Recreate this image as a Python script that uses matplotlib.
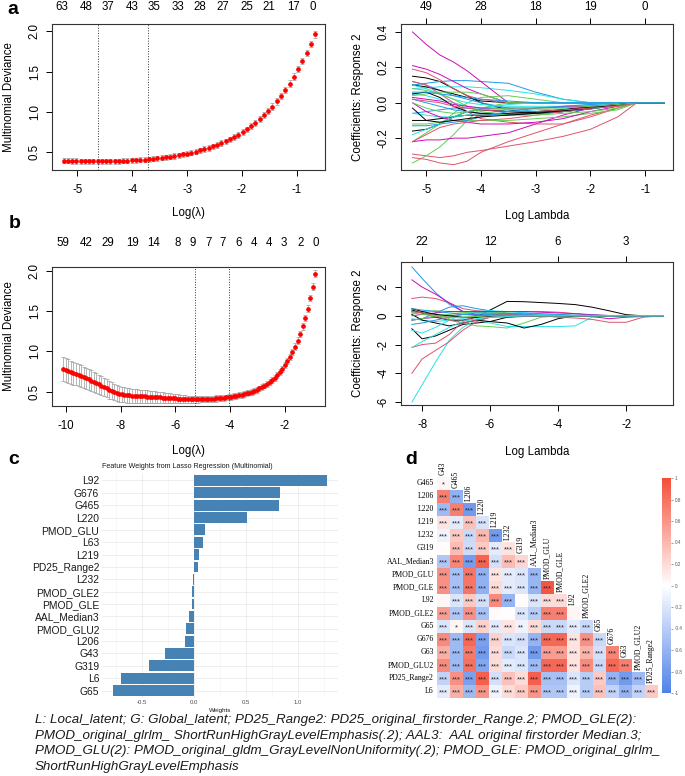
import numpy as np
import matplotlib
matplotlib.use("Agg")
import matplotlib.pyplot as plt
from matplotlib.colors import LinearSegmentedColormap, Normalize
from matplotlib.cm import ScalarMappable
import matplotlib.transforms as mtransforms

plt.rcParams['font.family'] = ['Liberation Sans', 'DejaVu Sans']

# ---------------- DATA ----------------
# panel a : cross-validation curve
A_LOGLAM_START, A_LOGLAM_END = -5.25, -0.67
A_DEV = [0.397, 0.395, 0.393, 0.391, 0.389, 0.388, 0.387, 0.386, 0.386, 0.386,
         0.387, 0.388, 0.389, 0.391, 0.393, 0.395, 0.398, 0.401, 0.405, 0.409,
         0.414, 0.419, 0.425, 0.431, 0.438, 0.446, 0.454, 0.463, 0.473, 0.484,
         0.496, 0.509, 0.523, 0.538, 0.554, 0.572, 0.591, 0.612, 0.635, 0.660,
         0.687, 0.716, 0.748, 0.783, 0.821, 0.862, 0.907, 0.956, 1.009, 1.067,
         1.130, 1.198, 1.272, 1.352, 1.438, 1.530, 1.628, 1.733, 1.844, 1.960]
A_SE = [0.034, 0.034, 0.033, 0.033, 0.033, 0.032, 0.032, 0.032, 0.031, 0.031,
        0.031, 0.031, 0.031, 0.031, 0.031, 0.031, 0.031, 0.031, 0.031, 0.031,
        0.031, 0.031, 0.032, 0.032, 0.032, 0.032, 0.032, 0.033, 0.033, 0.033,
        0.033, 0.033, 0.034, 0.034, 0.034, 0.034, 0.035, 0.035, 0.035, 0.035,
        0.036, 0.036, 0.036, 0.036, 0.037, 0.037, 0.037, 0.037, 0.038, 0.038,
        0.038, 0.038, 0.039, 0.039, 0.039, 0.040, 0.040, 0.040, 0.041, 0.041]
A_LAMBDA_LINES = [-4.62, -3.71]
A_TOP_POS = [-5.29, -4.84, -4.44, -4.0, -3.6, -3.16, -2.76, -2.35, -1.91, -1.51, -1.07, -0.71]
A_TOP_LABELS = ["63", "48", "37", "43", "35", "33", "28", "27", "25", "21", "17", "0"]

# panel a : coefficient paths
A_PATH_X = [-5.25, -5.0, -4.75, -4.5, -4.25, -4.0, -3.5, -3.0, -2.5, -2.0, -1.5, -1.15, -0.65]
A_PATHS = [
    [0.15, 0.14, 0.12, 0.08, 0.04, 0.0, -0.04, -0.06, -0.05, -0.03, -0.01, 0, 0],
    [-0.29, -0.30, -0.31, -0.30, -0.28, -0.27, -0.245, -0.22, -0.19, -0.15, -0.08, 0, 0],
    [-0.34, -0.30, -0.25, -0.18, -0.10, -0.03, 0, 0, 0, 0, 0, 0, 0],
    [0.10, 0.11, 0.12, 0.125, 0.125, 0.12, 0.11, 0.06, 0.02, 0, 0, 0, 0],
    [0.08, 0.085, 0.09, 0.09, 0.09, 0.085, 0.07, 0.05, 0.02, 0.0, 0, 0, 0],
    [0.40, 0.33, 0.27, 0.23, 0.18, 0.12, 0.0, 0, 0, 0, 0, 0, 0],
    [-0.10, -0.10, -0.09, -0.08, -0.07, -0.07, -0.065, -0.06, -0.05, -0.035, -0.015, 0, 0],
    [-0.31, -0.32, -0.34, -0.35, -0.33, -0.28, -0.22, -0.17, -0.12, -0.07, -0.03, 0, 0],
    [-0.22, -0.17, -0.12, -0.06, 0.0, 0.03, 0.04, 0.02, 0.0, 0, 0, 0, 0],
    [0.12, 0.10, 0.07, 0.04, 0.02, 0.0, -0.03, -0.05, -0.05, -0.03, -0.015, 0, 0],
    [0.05, 0.04, 0.02, 0.0, -0.02, -0.03, -0.04, -0.04, -0.035, -0.025, -0.01, 0, 0],
    [0.21, 0.19, 0.16, 0.12, 0.08, 0.05, 0.0, 0, 0, 0, 0, 0, 0],
    [0.10, 0.09, 0.07, 0.05, 0.03, 0.01, 0, 0, 0, 0, 0, 0, 0],
    [0.19, 0.17, 0.13, 0.08, 0.04, 0.02, 0.0, 0, 0, 0, 0, 0, 0],
    [0.04, 0.05, 0.06, 0.06, 0.06, 0.05, 0.0, 0, 0, 0, 0, 0, 0],
    [-0.06, -0.05, -0.04, -0.03, -0.03, -0.04, -0.05, -0.05, -0.045, -0.03, -0.015, 0, 0],
    [-0.06, -0.07, -0.08, -0.08, -0.07, -0.06, -0.04, -0.03, -0.02, -0.01, 0, 0, 0],
    [-0.22, -0.21, -0.21, -0.20, -0.20, -0.19, -0.17, -0.12, -0.07, -0.03, -0.01, 0, 0],
    [-0.16, -0.15, -0.12, -0.08, -0.05, -0.04, -0.05, -0.055, -0.04, -0.02, -0.01, 0, 0],
    [0.12, 0.10, 0.05, 0.0, -0.05, -0.09, -0.11, -0.12, -0.12, -0.08, -0.03, 0, 0],
    [-0.12, -0.12, -0.11, -0.10, -0.10, -0.10, -0.10, -0.09, -0.08, -0.06, -0.04, 0, 0],
    [0.02, 0.0, -0.02, -0.04, -0.05, -0.06, -0.07, -0.06, -0.05, -0.035, -0.015, 0, 0],
    [0.10, 0.08, 0.05, 0.02, 0.0, -0.01, -0.02, -0.02, -0.02, -0.015, -0.005, 0, 0],
    [0.0, -0.05, -0.08, -0.10, -0.11, -0.12, -0.12, -0.11, -0.09, -0.05, -0.02, 0, 0],
    [0.05, 0.06, 0.03, -0.02, -0.05, -0.06, -0.06, -0.05, -0.04, -0.025, -0.01, 0, 0],
    [-0.22, -0.18, -0.14, -0.12, -0.11, -0.10, -0.09, -0.07, -0.05, -0.03, -0.01, 0, 0],
    [0.08, 0.07, 0.05, 0.02, -0.02, -0.05, -0.07, -0.07, -0.06, -0.05, -0.03, 0, 0],
    [-0.13, -0.13, -0.12, -0.11, -0.10, -0.08, -0.05, -0.03, -0.02, -0.01, 0, 0, 0],
    [-0.18, -0.15, -0.12, -0.08, -0.05, -0.03, -0.01, 0, 0, 0, 0, 0, 0],
    [0.03, 0.02, 0.01, -0.01, -0.02, -0.03, -0.03, -0.03, -0.025, -0.02, -0.01, 0, 0],
    [-0.03, -0.10, -0.11, -0.10, -0.09, -0.08, -0.07, -0.06, -0.045, -0.03, -0.01, 0, 0],
    [0.02, 0.01, 0.0, -0.02, -0.03, -0.04, -0.05, -0.05, -0.04, -0.03, -0.02, 0, 0],
    [0.0, -0.03, -0.05, -0.06, -0.05, -0.04, -0.03, -0.03, -0.03, -0.02, -0.01, 0, 0],
    [0.06, 0.06, 0.05, 0.04, 0.03, 0.02, 0.01, 0, 0, 0, 0, 0, 0],
]
A_COEF_TOP_POS = [-5, -4, -3, -2, -1]
A_COEF_TOP_LABELS = ["49", "28", "18", "19", "0"]

# panel b : cross-validation curve
B_LOGLAM_START, B_LOGLAM_END = -10.1, -0.88
B_DEV = [0.780, 0.768, 0.755, 0.742, 0.729, 0.716, 0.703, 0.690, 0.677, 0.664,
         0.651, 0.637, 0.622, 0.606, 0.589, 0.572, 0.555, 0.538, 0.522, 0.507,
         0.494, 0.482, 0.472, 0.464, 0.458, 0.454, 0.451, 0.449, 0.447, 0.445,
         0.443, 0.441, 0.439, 0.437, 0.435, 0.433, 0.431, 0.429, 0.427, 0.425,
         0.423, 0.421, 0.419, 0.417, 0.415, 0.413, 0.411, 0.409, 0.407, 0.405,
         0.404, 0.403, 0.403, 0.403, 0.404, 0.405, 0.406, 0.408, 0.410, 0.412,
         0.414, 0.417, 0.420, 0.423, 0.427, 0.431, 0.436, 0.441, 0.447, 0.453,
         0.460, 0.468, 0.477, 0.487, 0.498, 0.510, 0.524, 0.539, 0.556, 0.575,
         0.596, 0.619, 0.645, 0.674, 0.706, 0.742, 0.782, 0.826, 0.875, 0.930,
         0.991, 1.059, 1.135, 1.219, 1.313, 1.417, 1.533, 1.663, 1.807, 1.967]
B_SE = [0.150, 0.148, 0.146, 0.144, 0.142, 0.140, 0.138, 0.136, 0.134, 0.132,
        0.130, 0.128, 0.126, 0.124, 0.121, 0.118, 0.115, 0.112, 0.109, 0.106,
        0.103, 0.100, 0.098, 0.096, 0.094, 0.092, 0.090, 0.088, 0.086, 0.084,
        0.082, 0.080, 0.078, 0.076, 0.074, 0.072, 0.070, 0.068, 0.066, 0.064,
        0.062, 0.060, 0.058, 0.056, 0.054, 0.052, 0.050, 0.048, 0.046, 0.045,
        0.044, 0.043, 0.042, 0.041, 0.040, 0.040, 0.039, 0.039, 0.038, 0.038,
        0.038, 0.037, 0.037, 0.037, 0.036, 0.036, 0.036, 0.036, 0.036, 0.036,
        0.036, 0.036, 0.036, 0.036, 0.036, 0.036, 0.036, 0.036, 0.036, 0.036,
        0.036, 0.036, 0.036, 0.037, 0.037, 0.037, 0.037, 0.038, 0.038, 0.038,
        0.039, 0.039, 0.040, 0.040, 0.041, 0.041, 0.042, 0.042, 0.043, 0.043]
B_LAMBDA_LINES = [-5.27, -4.04]
B_TOP_POS = [-10.11, -9.27, -8.46, -7.58, -6.78, -5.90, -5.35, -4.80, -4.26, -3.70,
             -3.11, -2.56, -2.02, -1.43, -0.88]
B_TOP_LABELS = ["59", "42", "29", "19", "14", "8", "9", "7", "7", "6", "4", "4", "3", "2", "0"]

# panel b : coefficient paths
B_PATH_X = [-8.3, -8.0, -7.6, -7.2, -6.8, -6.4, -6.0, -5.5, -5.0, -4.5, -4.0, -3.5, -3.0, -2.5, -2.0, -1.5, -0.9]
B_PATHS = [
    [-0.9, -1.6, -1.4, -1.0, -0.6, -0.5, -0.4, -0.1, 0, 0, 0, 0, 0, 0, 0, 0, 0],
    [1.2, 1.3, 1.2, 0.9, 0.5, 0.35, 0.3, 0.3, 0.3, 0.3, 0.25, 0.15, 0.05, 0, 0, 0, 0],
    [0.3, 0.2, 0.1, -0.2, -0.5, -0.7, -0.75, -0.85, -0.5, -0.1, 0, 0, 0, 0, 0, 0, 0],
    [3.4, 2.6, 1.6, 0.8, 0.3, 0.1, 0.05, 0.0, 0, 0, 0, 0, 0, 0, 0, 0, 0],
    [-6.0, -4.8, -3.2, -1.7, -0.8, -0.3, -0.1, 0, 0, 0, 0, 0, 0, 0, 0, 0, 0],
    [2.5, 2.0, 1.5, 0.9, 0.3, 0.0, -0.05, -0.1, -0.05, 0, 0, 0, 0, 0, 0, 0, 0],
    [0.4, 0.2, -0.1, -0.3, -0.3, -0.1, 0.4, 1.0, 0.98, 0.92, 0.86, 0.78, 0.6, 0.35, 0.08, 0, 0],
    [-4.0, -3.0, -2.4, -1.8, -1.0, -0.4, -0.1, 0, 0, 0, 0, 0, 0, 0, 0, 0, 0],
    [0.2, 0.3, 0.35, 0.3, 0.25, 0.2, 0.15, 0.1, 0.05, 0.02, 0, 0, 0, 0, 0, 0, 0],
    [-0.3, -0.2, 0.2, 0.6, 0.7, 0.5, 0.35, 0.2, 0.1, 0.05, 0, 0, 0, 0, 0, 0, 0],
    [-0.2, -0.3, -0.4, -0.3, -0.2, -0.3, -0.5, -0.74, -0.75, -0.75, -0.75, -0.7, -0.1, 0, 0, 0, 0],
    [-0.3, -0.2, -0.1, 0.0, 0.1, 0.05, 0, 0, 0, 0, 0, 0, -0.05, -0.2, -0.1, -0.05, 0],
    [0.1, -0.3, -0.5, -0.7, -0.5, -0.3, -0.4, -0.5, -0.85, -0.6, -0.2, 0, 0, 0, 0, 0, 0],
    [-2.2, -2.0, -1.9, -1.3, -0.4, 0, 0.1, 0.1, 0.05, 0.0, -0.1, -0.15, -0.25, -0.45, -0.45, -0.1, 0],
    [-0.3, -0.2, 0.0, 0.1, 0.2, 0.25, 0.25, 0.2, 0.15, 0.1, 0.05, 0.02, 0, 0, 0, 0, 0],
    [-0.6, -0.5, -0.3, -0.1, 0.1, 0.2, 0.2, 0.15, 0.1, 0.05, 0.02, 0, 0, 0, 0, 0, 0],
    [-1.0, -1.2, -0.8, -0.3, 0.1, 0.3, 0.35, 0.3, 0.2, 0.1, 0.05, 0, 0, 0, 0, 0, 0],
    [0.0, 0.1, 0.2, 0.3, 0.3, 0.3, 0.3, 0.3, 0.3, 0.25, 0.2, 0.15, 0.08, 0.02, 0, 0, 0],
    [0.5, 0.3, 0.1, 0.0, -0.1, -0.1, -0.05, 0, 0, 0, 0, 0, 0, 0, 0, 0, 0],
    [0.3, 0.2, 0.0, -0.3, -0.5, -0.3, -0.1, 0.0, 0.0, 0, 0, 0, 0, 0, 0, 0, 0],
    [0.2, 0.1, 0.0, -0.1, -0.1, -0.05, 0, 0, 0, 0, 0, 0, 0, 0, 0, 0, 0],
    [0.5, 0.4, 0.3, 0.2, 0.1, 0.05, 0.1, 0.15, 0.2, 0.15, 0.1, 0.05, 0.05, 0.02, 0, 0, 0],
    [-2.2, -1.8, -1.3, -0.8, -0.4, -0.2, -0.1, -0.05, 0, 0, 0, 0, 0, 0, 0, 0, 0],
]
B_COEF_TOP_POS = [-8, -6, -4, -2]
B_COEF_TOP_LABELS = ["22", "12", "6", "3"]

# panel c : lasso feature weights
C_FEATURES = ["L92", "G676", "G465", "L220", "PMOD_GLU", "L63", "L219", "PD25_Range2",
              "L232", "PMOD_GLE2", "PMOD_GLE", "AAL_Median3", "PMOD_GLU2", "L206",
              "G43", "G319", "L6", "G65"]
C_WEIGHTS = [1.28, 0.83, 0.82, 0.51, 0.106, 0.09, 0.045, 0.04,
             -0.013, -0.015, -0.02, -0.05, -0.08, -0.085,
             -0.28, -0.43, -0.70, -0.78]
C_XTICKS = [-0.5, 0.0, 0.5, 1.0]

# panel d : correlation matrix (lower triangle)
D_VARS = ["G43", "G465", "L206", "L220", "L219", "L232", "G319", "AAL_Median3",
          "PMOD_GLU", "PMOD_GLE", "L92", "PMOD_GLE2", "G65", "G676", "G63",
          "PMOD_GLU2", "PD25_Range2", "L6"]
D_CORR = [
    [0.05],
    [0.72, -0.62],
    [-0.55, 0.72, -0.80],
    [0.15, -0.15, 0.35, -0.22],
    [-0.10, 0.30, -0.30, 0.40, -0.80],
    [0.02, 0.38, -0.28, 0.30, -0.15, 0.15],
    [-0.45, 0.68, -0.78, 0.88, -0.25, 0.38, 0.22],
    [0.62, -0.50, 0.78, -0.62, 0.15, -0.15, -0.20, -0.58],
    [0.62, -0.50, 0.78, -0.62, 0.20, -0.15, -0.20, -0.58, 0.95],
    [0.04, -0.20, 0.30, -0.25, 0.65, -0.60, 0.02, -0.20, 0.20, 0.20],
    [0.55, -0.45, 0.62, -0.50, 0.02, 0.01, -0.20, -0.40, 0.72, 0.72, 0.05],
    [-0.20, 0.05, -0.20, 0.25, -0.15, 0.15, -0.10, 0.20, -0.30, -0.30, -0.15, -0.30],
    [0.65, -0.55, 0.85, -0.75, 0.25, -0.20, -0.25, -0.60, 0.85, 0.85, 0.15, 0.62, -0.30],
    [0.45, -0.55, 0.75, -0.80, 0.20, -0.30, -0.20, -0.80, 0.55, 0.55, 0.15, 0.42, -0.25, 0.70],
    [0.65, -0.55, 0.80, -0.70, 0.20, -0.15, -0.20, -0.55, 0.85, 0.85, 0.15, 0.65, -0.30, 0.85, 0.72],
    [-0.35, 0.62, -0.75, 0.90, -0.25, 0.35, 0.20, 0.90, -0.50, -0.50, -0.20, -0.40, 0.30, -0.60, -0.80, -0.55],
    [-0.15, 0.45, -0.55, 0.60, -0.10, 0.20, 0.30, 0.60, -0.45, -0.45, -0.10, -0.40, 0.35, -0.35, -0.60, -0.35, 0.30],
]
# number of significance stars per cell
D_SIG = ["1", "33", "333", "3333", "33333", "033333", "3333333", "33333333",
         "333333333", "0333330333", "33330033330", "313333233333", "3333333333333",
         "33333333333333", "333333333333333", "3333333333333333", "33333333333333333"]
D_CBAR_TICKS = [1, 0.8, 0.6, 0.4, 0.2, 0, -0.2, -0.4, -0.6, -0.8, -1]

CAPTION = [
    "L: Local_latent; G: Global_latent; PD25_Range2: PD25_original_firstorder_Range.2; PMOD_GLE(2):",
    "PMOD_original_glrlm_ ShortRunHighGrayLevelEmphasis(.2); AAL3:  AAL original firstorder Median.3;",
    "PMOD_GLU(2): PMOD_original_gldm_GrayLevelNonUniformity(.2); PMOD_GLE: PMOD_original_glrlm_",
    "ShortRunHighGrayLevelEmphasis",
]

# ---------------- LAYOUT ----------------
W, H = 685, 776
fig = plt.figure(figsize=(W / 100, H / 100), dpi=100)
fig.patch.set_facecolor("white")


def box(x0, y0, x1, y1):
    return [x0 / W, 1 - y1 / H, (x1 - x0) / W, (y1 - y0) / H]


R_COLS = ["black", "#DF536B", "#61D04F", "#2297E6", "#28E2E5", "#CD0BBC"]
FS = 8.3


def r_axes(rect, xlim, ylim, xticks, yticks, ylab_fmt, top_pos, top_labels,
           top_ticks, ylabel, xlabel, ylab_x, xlab_y, top_y):
    ax = fig.add_axes(rect)
    ax.set_xlim(*xlim)
    ax.set_ylim(*ylim)
    ax.set_xticks(xticks)
    ax.set_xticklabels([("%g" % t) for t in xticks], fontsize=FS)
    ax.set_yticks(yticks)
    ax.set_yticklabels([ylab_fmt % t for t in yticks], fontsize=FS,
                       rotation=90, va="center")
    ax.tick_params(direction="out", length=4, width=0.7, pad=6, colors="black")
    ax.tick_params(axis="y", pad=4)
    for s in ax.spines.values():
        s.set_linewidth(0.8)
        s.set_color("#333333")
    trans = mtransforms.blended_transform_factory(ax.transData, ax.transAxes)
    for p, l in zip(top_pos, top_labels):
        ax.text(p, top_y, l, transform=trans, ha="center", va="center", fontsize=FS)
    if top_ticks:
        ax.tick_params(top=True)
    ax.set_ylabel(ylabel, fontsize=FS, va="center")
    ax.yaxis.set_label_coords(ylab_x, 0.5)
    ax.set_xlabel(xlabel, fontsize=FS, va="center")
    ax.xaxis.set_label_coords(0.5, xlab_y)
    return ax


# ---- panel a, left: CV curve
ax = r_axes(box(52, 24, 325, 170), (-5.46, -0.49), (0.28, 2.09),
            [-5, -4, -3, -2, -1], [0.5, 1.0, 1.5, 2.0], "%.1f",
            A_TOP_POS, A_TOP_LABELS, False, "Multinomial Deviance", "Log(\u03bb)",
            -0.158, -0.295, 1.117)
xa = np.linspace(A_LOGLAM_START, A_LOGLAM_END, len(A_DEV))
ax.errorbar(xa, A_DEV, yerr=A_SE, fmt="none", ecolor="#A9A9A9", elinewidth=0.6,
            capsize=1.6, capthick=0.6, zorder=1)
ax.plot(xa, A_DEV, "o", color="red", ms=3.4, mec="none", zorder=3)
for v in A_LAMBDA_LINES:
    ax.axvline(v, color="#333333", ls=":", lw=0.7)

# ---- panel a, right: coefficient paths
ax = r_axes(box(401, 24, 673, 170), (-5.46, -0.49), (-0.38, 0.445),
            [-5, -4, -3, -2, -1], [-0.2, 0.0, 0.2, 0.4], "%.1f",
            A_COEF_TOP_POS, A_COEF_TOP_LABELS, True, "Coefficients: Response 2",
            "Log Lambda", -0.158, -0.315, 1.117)
for k, path in enumerate(A_PATHS):
    ax.plot(A_PATH_X, path, color=R_COLS[k % 6], lw=0.7)

# ---- panel b, left: CV curve
ax = r_axes(box(52, 267, 325, 406), (-10.51, -0.53), (0.32, 2.05),
            [-10, -8, -6, -4, -2], [0.5, 1.0, 1.5, 2.0], "%.1f",
            B_TOP_POS, B_TOP_LABELS, False, "Multinomial Deviance", "Log(\u03bb)",
            -0.158, -0.324, 1.17)
xb = np.linspace(B_LOGLAM_START, B_LOGLAM_END, len(B_DEV))
ax.errorbar(xb, B_DEV, yerr=B_SE, fmt="none", ecolor="#A9A9A9", elinewidth=0.6,
            capsize=1.6, capthick=0.6, zorder=1)
ax.plot(xb, B_DEV, "o", color="red", ms=3.4, mec="none", zorder=3)
for v in B_LAMBDA_LINES:
    ax.axvline(v, color="#333333", ls=":", lw=0.7)

# ---- panel b, right: coefficient paths
ax = r_axes(box(401, 262, 673, 405), (-8.62, -0.62), (-6.2, 3.74),
            [-8, -6, -4, -2], [-6, -4, -2, 0, 2], "%d",
            B_COEF_TOP_POS, B_COEF_TOP_LABELS, True, "Coefficients: Response 2",
            "Log Lambda", -0.158, -0.329, 1.14)
for k, path in enumerate(B_PATHS):
    ax.plot(B_PATH_X, path, color=R_COLS[k % 6], lw=0.7)

# ---- panel c: bar chart
axc = fig.add_axes(box(102, 473, 338, 698))
n = len(C_FEATURES)
yy = np.arange(n)
axc.barh(yy, C_WEIGHTS, height=0.88, color="#4682B4", zorder=2)
axc.set_ylim(n - 0.4, -0.6)
axc.set_xlim(-0.883, 1.383)
axc.set_yticks(yy)
axc.set_yticklabels(C_FEATURES, fontsize=7.4, color="#1a1a1a")
axc.set_xticks(C_XTICKS)
axc.set_xticklabels(["%.1f" % t for t in C_XTICKS], fontsize=4.3, color="#4d4d4d")
axc.set_xticks([-0.75, -0.25, 0.25, 0.75, 1.25], minor=True)
axc.tick_params(length=0, pad=2)
axc.tick_params(axis="x", which="both", length=0, pad=1.6)
axc.grid(True, which="major", color="#EBEBEB", lw=0.6, zorder=0)
axc.grid(True, which="minor", axis="x", color="#F3F3F3", lw=0.4, zorder=0)
for s in axc.spines.values():
    s.set_visible(False)
axc.text(0.0, 1.027, "Feature Weights from Lasso Regression (Multinomial)",
         transform=axc.transAxes, fontsize=5.1, ha="left", va="center", color="#1a1a1a")
axc.text(0.5, -0.055, "Weights", transform=axc.transAxes, fontsize=4.5,
         color="#1a1a1a", ha="center", va="center")

# ---- panel d: correlation heatmap
cmap = LinearSegmentedColormap.from_list("cc", ["#4F82E8", "#FFFFFF", "#F44E38"])
axd = fig.add_axes(box(436.5, 476.5, 657.5, 697.5))
nr = len(D_CORR)
M = np.full((nr, nr), np.nan)
for r, row in enumerate(D_CORR):
    M[r, :len(row)] = row
axd.pcolormesh(np.arange(nr + 1), np.arange(nr + 1), np.ma.masked_invalid(M),
               cmap=cmap, vmin=-1, vmax=1)
axd.set_xlim(0, nr)
axd.set_ylim(nr, 0)
axd.axis("off")
star = {"0": "", "1": "*", "2": "**", "3": "***"}
for r, row in enumerate(D_SIG):
    for c, code in enumerate(row):
        axd.text(c + 0.5, r + 0.68, star[code], ha="center", va="center",
                 fontsize=5.6, color="#2a2a3a", family="Liberation Sans")
for r in range(nr):
    axd.text(-0.2, r + 0.5, D_VARS[r + 1], ha="right", va="center", fontsize=5.6,
             family="Liberation Serif", clip_on=False)
    axd.text(r + 0.5, r - 0.1, D_VARS[r], ha="center", va="bottom", rotation=90,
             fontsize=5.6, family="Liberation Serif", clip_on=False)

cax = fig.add_axes(box(662, 478, 671, 693))
cb = fig.colorbar(ScalarMappable(norm=Normalize(-1, 1), cmap=cmap), cax=cax)
cb.outline.set_visible(False)
cb.set_ticks(D_CBAR_TICKS)
cb.set_ticklabels(["%g" % t for t in D_CBAR_TICKS])
cax.tick_params(labelsize=3.3, length=1.5, width=0.4, colors="#555555", pad=1.5)

# ---- panel letters
for lab, (px, py) in {"a": (13, 9), "b": (15, 224), "c": (14, 460), "d": (411, 459)}.items():
    fig.text(px / W, 1 - py / H, lab, fontsize=14, fontweight="bold",
             ha="center", va="center")

# ---- caption
for i, line in enumerate(CAPTION):
    fig.text(35 / W, 1 - (720 + 15.6 * i) / H, line, fontsize=9.6, style="italic",
             ha="left", va="center", color="#1a1a1a")

fig.savefig("out.png", dpi=100)
